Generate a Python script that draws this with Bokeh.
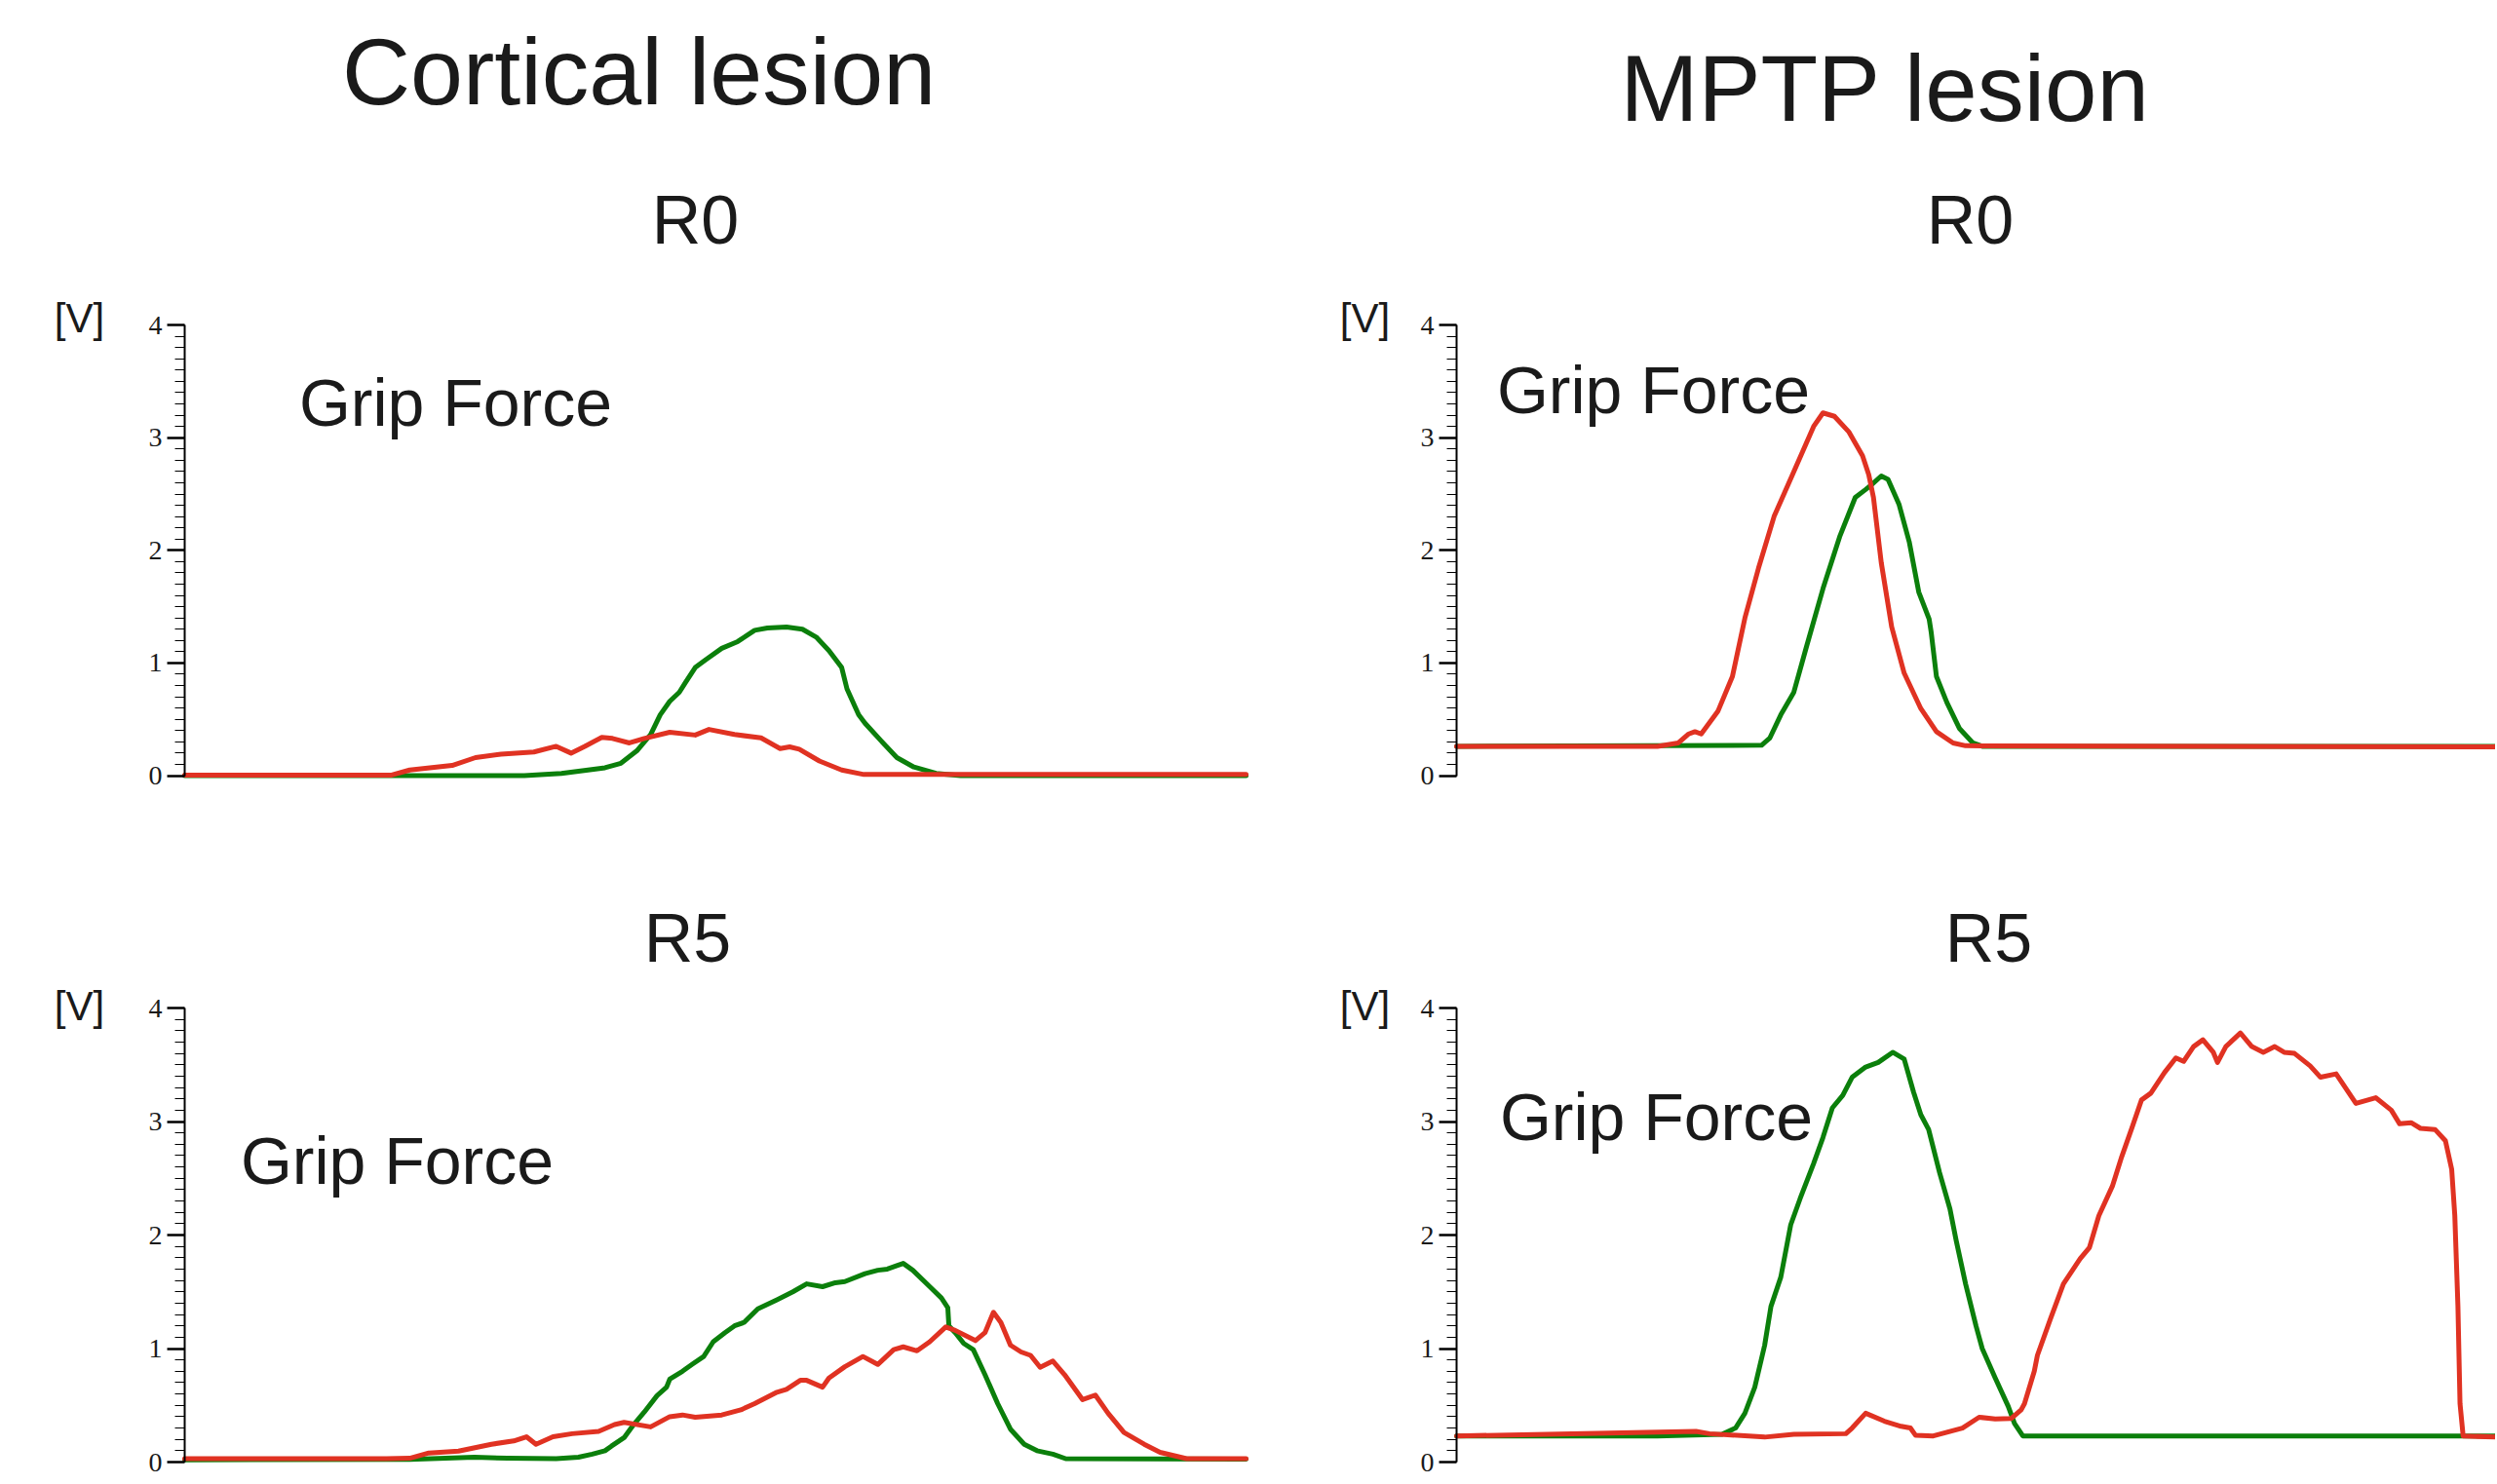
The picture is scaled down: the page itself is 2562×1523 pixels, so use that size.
from bokeh.plotting import figure
from bokeh.models import Range1d, LinearAxis, SingleIntervalTicker
from bokeh.core.properties import value
from bokeh.layouts import column, row
from bokeh.embed import file_html
from bokeh.resources import INLINE

# ---------------- data (time in % of trace window, force in V) ----------------
# Cortical lesion, R0
cort_r0_green_t = [0, 32.0, 35.5, 38.0, 39.6, 41.1, 42.6, 43.9, 44.8, 45.7, 46.6, 47.2, 48.1, 49.1, 50.6,
                   52.1, 53.7, 54.9, 56.7, 58.2, 59.5, 60.7, 61.9, 62.4, 63.5, 64.1, 65.6, 67.1, 68.7,
                   70.8, 73.1, 100]
cort_r0_green_v = [0.0, 0.0, 0.02, 0.05, 0.07, 0.11, 0.22, 0.365, 0.54, 0.66, 0.74, 0.83, 0.96, 1.03, 1.13,
                   1.19, 1.29, 1.31, 1.32, 1.30, 1.23, 1.11, 0.96, 0.77, 0.54, 0.465, 0.31, 0.16, 0.076,
                   0.02, 0.0, 0.0]
cort_r0_red_t = [0, 19.5, 21.2, 25.2, 27.4, 29.8, 32.9, 35.0, 36.4, 37.7, 39.3, 40.3, 41.9, 43.3, 45.7,
                 48.1, 49.4, 51.8, 54.3, 56.1, 57.0, 57.9, 59.8, 61.9, 64.0, 100]
cort_r0_red_v = [0.005, 0.005, 0.05, 0.09, 0.16, 0.19, 0.21, 0.26, 0.20, 0.26, 0.34, 0.33, 0.29, 0.33, 0.385,
                 0.36, 0.41, 0.365, 0.335, 0.24, 0.255, 0.235, 0.13, 0.05, 0.01, 0.01]

# Cortical lesion, R5
cort_r5_green_t = [0, 21.2, 27.3, 30.4, 35.0, 37.1, 38.4, 39.6, 40.2, 41.4, 42.3, 43.3, 44.5, 45.4, 45.7,
                   46.9, 47.8, 48.9, 49.8, 50.9, 51.8, 52.7, 54.0, 55.8, 57.3, 58.6, 60.1, 61.3, 62.2,
                   64.1, 65.3, 66.2, 67.1, 67.7, 68.6, 70.2, 71.3, 71.9, 72.0, 72.6, 73.4, 74.3, 75.4,
                   76.6, 77.8, 79.1, 80.3, 81.8, 83.0, 100]
cort_r5_green_v = [0.02, 0.023, 0.043, 0.034, 0.03, 0.043, 0.07, 0.10, 0.14, 0.215, 0.33, 0.44, 0.585, 0.66, 0.73,
                   0.80, 0.86, 0.93, 1.06, 1.14, 1.20, 1.23, 1.35, 1.43, 1.50, 1.57, 1.545, 1.58, 1.59,
                   1.66, 1.69, 1.70, 1.73, 1.75, 1.69, 1.545, 1.445, 1.36, 1.20, 1.14, 1.045, 0.99, 0.77,
                   0.515, 0.29, 0.157, 0.10, 0.07, 0.03, 0.025]
cort_r5_red_t = [0, 19.0, 21.2, 23.0, 25.8, 28.9, 31.0, 32.2, 33.1, 34.7, 36.5, 39.0, 40.5, 41.4, 43.9,
                 45.7, 46.9, 48.1, 50.6, 52.4, 53.7, 55.8, 56.7, 58.0, 58.6, 60.1, 60.7, 62.2, 63.9,
                 65.3, 66.8, 67.7, 69.0, 70.2, 71.7, 72.6, 74.5, 75.4, 76.2, 76.9, 77.8, 78.8, 79.7,
                 80.6, 81.8, 82.9, 84.6, 85.8, 87.0, 88.5, 90.4, 91.9, 94.4, 100]
cort_r5_red_v = [0.03, 0.03, 0.034, 0.08, 0.097, 0.157, 0.186, 0.223, 0.157, 0.223, 0.25, 0.27, 0.33, 0.35, 0.31,
                 0.40, 0.415, 0.395, 0.415, 0.46, 0.515, 0.615, 0.64, 0.72, 0.72, 0.66, 0.74, 0.84, 0.93,
                 0.86, 0.99, 1.015, 0.98, 1.06, 1.19, 1.16, 1.07, 1.14, 1.32, 1.23, 1.03, 0.97, 0.94,
                 0.835, 0.89, 0.77, 0.55, 0.59, 0.43, 0.26, 0.157, 0.086, 0.03, 0.03]

# MPTP lesion, R0
mptp_r0_green_t = [0, 29.3, 30.1, 31.15, 32.4, 33.6, 35.2, 36.8, 38.3, 39.3, 39.9, 40.8, 41.45, 42.5, 43.5,
                   44.4, 45.4, 45.6, 46.1, 47.1, 48.3, 49.6, 50.5, 100]
mptp_r0_green_v = [0.26, 0.27, 0.335, 0.54, 0.74, 1.14, 1.66, 2.12, 2.47, 2.54, 2.585, 2.66, 2.63, 2.41, 2.07,
                   1.63, 1.39, 1.27, 0.88, 0.65, 0.42, 0.29, 0.26, 0.26]
mptp_r0_red_t = [0, 19.3, 21.3, 22.3, 22.9, 23.5, 25.1, 26.5, 27.7, 29.0, 30.5, 32.4, 34.3, 35.2, 36.3,
                 37.7, 39.0, 39.6, 40.05, 40.8, 41.8, 43.0, 44.6, 46.1, 47.7, 48.9, 100]
mptp_r0_red_v = [0.26, 0.26, 0.29, 0.37, 0.39, 0.37, 0.57, 0.88, 1.40, 1.84, 2.30, 2.70, 3.10, 3.22, 3.19,
                 3.05, 2.84, 2.67, 2.47, 1.89, 1.32, 0.91, 0.595, 0.39, 0.29, 0.265, 0.255]

# MPTP lesion, R5
mptp_r5_green_t = [0, 19.3, 25.5, 26.8, 27.7, 28.65, 29.6, 30.2, 31.15, 32.1, 33.0, 34.3, 35.2, 36.1, 37.1,
                   38.0, 39.3, 40.5, 41.9, 43.0, 43.9, 44.6, 45.35, 46.4, 47.4, 48.0, 48.9, 49.9, 50.5,
                   51.75, 53.0, 53.6, 54.4, 100]
mptp_r5_green_v = [0.23, 0.23, 0.245, 0.30, 0.43, 0.66, 1.03, 1.37, 1.63, 2.09, 2.32, 2.63, 2.86, 3.12, 3.23,
                   3.39, 3.48, 3.52, 3.61, 3.55, 3.26, 3.06, 2.93, 2.55, 2.23, 1.95, 1.57, 1.20, 1.00,
                   0.74, 0.49, 0.34, 0.23, 0.23]
mptp_r5_red_t = [0, 23.0, 24.3, 29.6, 32.4, 37.4, 38.0, 39.3, 41.1, 42.7, 43.6, 44.1, 45.8, 48.6, 50.2,
                 51.75, 53.3, 54.24, 54.56, 55.5, 55.8, 57.05, 58.3, 59.9, 60.8, 61.7, 63.0, 63.9, 64.9,
                 65.8, 66.7, 68.0, 69.1, 69.85, 70.8, 71.7, 72.7, 73.1, 73.9, 75.3, 76.4, 77.5, 78.6,
                 79.5, 80.5, 82.0, 83.0, 84.5, 86.4, 88.3, 89.8, 90.6, 91.7, 92.6, 94.0, 95.0, 95.6,
                 95.9, 96.2, 96.4, 96.7, 100]
mptp_r5_red_v = [0.23, 0.27, 0.25, 0.22, 0.245, 0.25, 0.30, 0.43, 0.36, 0.315, 0.30, 0.235, 0.23, 0.30, 0.395,
                 0.38, 0.385, 0.46, 0.515, 0.80, 0.94, 1.26, 1.57, 1.79, 1.89, 2.17, 2.43, 2.69, 2.95,
                 3.19, 3.25, 3.43, 3.56, 3.53, 3.66, 3.72, 3.61, 3.52, 3.66, 3.78, 3.66, 3.61, 3.66,
                 3.61, 3.60, 3.49, 3.39, 3.42, 3.16, 3.21, 3.10, 2.98, 2.99, 2.94, 2.93, 2.83, 2.58,
                 2.17, 1.37, 0.515, 0.23, 0.22]

column_titles = ["Cortical lesion", "MPTP lesion"]
row_titles = ["R0", "R5"]
trace_label = "Grip Force"
unit_label = "[V]"
y_ticks_major = 1
y_minor_per_major = 10

GREEN = "#0b7f0b"
RED = "#e03222"
TXT = "#1a1a1a"
SANS = "Liberation Sans"
SERIF = "Liberation Serif"
AXIS_BORDER = 50  # room kept left of each frame for the axis side panel


class Panel:
    """A figure whose frame covers a page region; (x0, y0) = page pixel of data origin."""

    def __init__(self, fx, fy, w, h, x0, sx, y0, sy):
        self.x0, self.sx, self.y0, self.sy = x0, sx, y0, sy
        left, right, top, bottom = fx + AXIS_BORDER, fx + w, fy, fy + h
        p = figure(width=w, height=h,
                   x_range=Range1d((left - x0) / sx, (right - x0) / sx),
                   y_range=Range1d((y0 - bottom) / sy, (y0 - top) / sy),
                   output_backend="svg", toolbar_location=None,
                   x_axis_location=None, y_axis_location=None,
                   min_border_left=AXIS_BORDER, min_border_right=0,
                   min_border_top=0, min_border_bottom=0)
        p.outline_line_color = None
        p.background_fill_color = "white"
        p.border_fill_color = "white"
        p.grid.visible = False
        ax = LinearAxis(ticker=SingleIntervalTicker(interval=y_ticks_major, num_minor_ticks=y_minor_per_major),
                        bounds=(0, 4), fixed_location=0)
        ax.axis_line_color = "black"
        ax.axis_line_width = 2
        ax.major_tick_line_color = "black"
        ax.major_tick_line_width = 2.5
        ax.minor_tick_line_color = "black"
        ax.minor_tick_line_width = 1.2
        ax.major_tick_out = 18
        ax.major_tick_in = 0
        ax.minor_tick_out = 10
        ax.minor_tick_in = 0
        ax.major_label_standoff = 5
        ax.major_label_text_font = SERIF
        ax.major_label_text_font_size = "28px"
        ax.major_label_text_color = TXT
        p.add_layout(ax, "left")
        self.p = p

    def text(self, px, py, txt, size):
        # (px, py): page position of the text's horizontal / vertical centre
        self.p.text(x=[(px - self.x0) / self.sx], y=[(self.y0 - py) / self.sy], text=[txt],
                    text_font=value(SANS), text_font_size=value(size), text_color=TXT,
                    text_align="center", text_baseline="middle")

    def traces(self, gt, gv, rt, rv):
        self.p.line(gt, gv, line_color=GREEN, line_width=5, line_join="round", line_cap="round")
        self.p.line(rt, rv, line_color=RED, line_width=5, line_join="round", line_cap="round")


tl = Panel(0, 0, 1300, 811, 189, 10.89, 795.5, 115.6)
tl.traces(cort_r0_green_t, cort_r0_green_v, cort_r0_red_t, cort_r0_red_v)
tl.text(655, 73, column_titles[0], "97px")
tl.text(713, 225, row_titles[0], "70px")
tl.text(81, 326, unit_label, "42px")
tl.text(467, 412, trace_label, "68px")

tr = Panel(1300, 0, 1260, 811, 1494, 10.68, 795.5, 115.6)
tr.traces(mptp_r0_green_t, mptp_r0_green_v, mptp_r0_red_t, mptp_r0_red_v)
tr.text(1934, 90, column_titles[1], "96px")
tr.text(2021, 225, row_titles[0], "70px")
tr.text(1400, 326, unit_label, "42px")
tr.text(1696, 399, trace_label, "68px")

bl = Panel(0, 811, 1300, 703, 189, 10.89, 1500, 116.5)
bl.traces(cort_r5_green_t, cort_r5_green_v, cort_r5_red_t, cort_r5_red_v)
bl.text(705, 962, row_titles[1], "70px")
bl.text(81, 1032, unit_label, "42px")
bl.text(407, 1190, trace_label, "68px")

br = Panel(1300, 811, 1260, 703, 1494, 10.68, 1500, 116.5)
br.traces(mptp_r5_green_t, mptp_r5_green_v, mptp_r5_red_t, mptp_r5_red_v)
br.text(2040, 962, row_titles[1], "70px")
br.text(1400, 1032, unit_label, "42px")
br.text(1699, 1145, trace_label, "68px")

layout = column(row(tl.p, tr.p, spacing=0), row(bl.p, br.p, spacing=0), spacing=0)

open("out.html", "w").write(file_html(layout, INLINE))
